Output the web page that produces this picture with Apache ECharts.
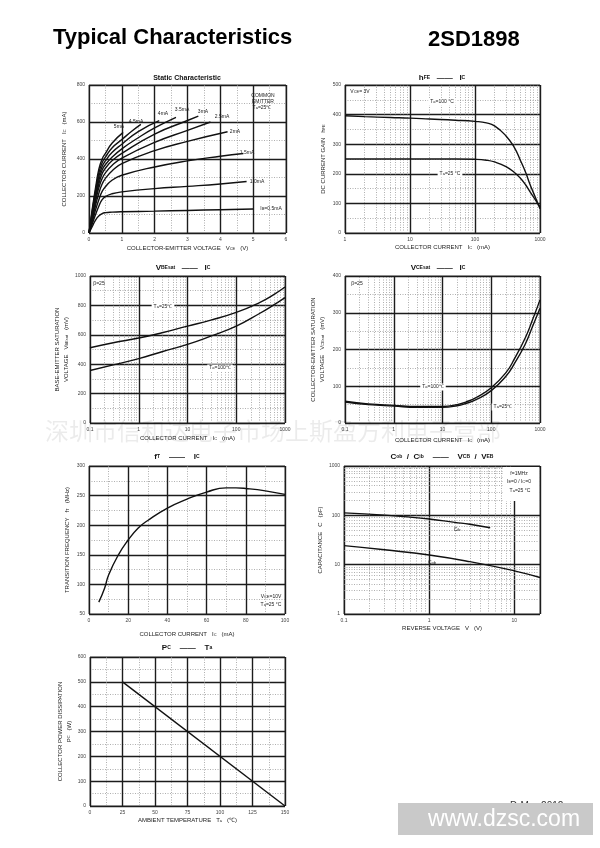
<!DOCTYPE html>
<html>
<head>
<meta charset="utf-8">
<script src="https://cdn.jsdelivr.net/npm/echarts/dist/echarts.min.js"></script>
<style>
  html, body { margin: 0; background: #fff; }
  #main { width: 600px; height: 848px; }
</style>
</head>
<body>
<div id="main"></div>
<script>
// static characteristic: [Vce (V), Ic (mA)] per base current
const ib05 = [[0,0],[0.1,35],[0.2,70],[0.3,92],[0.4,105],[0.5,110],[0.7,113],[1,115],[2,118],[3,122],[4,126],[5,130]];
const ib10 = [[0,0],[0.1,50],[0.2,100],[0.3,145],[0.4,180],[0.5,197],[0.7,212],[1,222],[2,240],[3,252],[4,265],[4.8,278]];
const ib15 = [[0,0],[0.1,60],[0.2,125],[0.3,180],[0.4,225],[0.5,250],[0.7,285],[1,312],[2,357],[3,390],[4,415],[4.7,430]];
const ib20 = [[0,0],[0.1,70],[0.2,150],[0.3,215],[0.4,265],[0.5,295],[0.7,335],[1,375],[2,445],[3,495],[4.22,547]];
const ib25 = [[0,0],[0.1,80],[0.2,170],[0.3,245],[0.4,295],[0.5,325],[0.7,365],[1,405],[2,490],[3,555],[3.7,600]];
const ib30 = [[0,0],[0.1,90],[0.2,185],[0.3,265],[0.4,320],[0.5,350],[0.7,390],[1,430],[2,535],[3,608],[3.33,632]];
const ib35 = [[0,0],[0.1,100],[0.2,200],[0.3,285],[0.4,340],[0.5,370],[0.7,410],[1,455],[1.5,515],[2,568],[2.65,625]];
const ib40 = [[0,0],[0.1,110],[0.2,215],[0.3,305],[0.4,360],[0.5,390],[0.7,435],[1,480],[1.5,548],[2.14,607]];
const ib45 = [[0,0],[0.1,120],[0.2,230],[0.3,325],[0.4,380],[0.5,410],[0.7,460],[1,505],[1.3,550],[1.58,587]];
const ib50 = [[0,0],[0.1,130],[0.2,245],[0.3,345],[0.4,400],[0.5,430],[0.7,485],[1.04,544]];

// hFE vs Ic (mA)
const hfe100 = [[1,396],[2,393],[5,390],[10,388],[20,385],[50,381],[100,377],[150,372],[200,362],[300,328],[400,290],[500,245],[600,205],[700,165],[850,120],[1000,82]];
const hfe25 = [[1,250],[10,250],[50,250],[100,249],[150,246],[200,240],[300,224],[400,205],[500,185],[600,163],[700,140],[850,112],[1000,88]];

// VBEsat (mV) vs Ic (mA)
const vbe25 = [[0.1,512],[0.3,546],[1,578],[3,614],[10,659],[30,700],[100,752],[300,819],[600,875],[1000,925]];
const vbe100 = [[0.1,357],[0.3,395],[1,438],[3,485],[10,535],[30,591],[100,659],[300,745],[600,805],[1000,853]];

// VCEsat (mV) vs Ic (mA)
const vce100 = [[0.1,59],[0.3,52],[1,48],[3,45],[10,45],[20,50],[30,57],[50,70],[100,96],[200,137],[300,175],[500,232],[700,280],[1000,335]];
const vce25 = [[0.1,57],[0.3,50],[1,46],[3,43],[10,43],[20,47],[30,53],[50,64],[100,88],[200,127],[300,162],[500,215],[700,262],[1000,312]];

// fT (MHz) vs Ic (mA)
const ft = [[5,70],[8,94],[10,116],[15,150],[20,175],[25,195],[30,208],[40,229],[50,244],[60,256],[70,263],[75,263],[80,262],[90,258],[100,252]];

// capacitance (pF) vs reverse voltage (V)
const cib = [[0.1,112],[0.3,101],[0.5,94],[1,84],[2,72],[3,66],[5.2,56]];
const cob = [[0.1,24.3],[0.3,20],[1,15.7],[3,11.5],[10,7.5],[20,5.5]];

// Pc vs Ta
const pc = [[25,500],[150,0]];

const F = '"Liberation Sans", Arial, sans-serif';
const RICH = { s: { fontSize: 4, fontFamily: F, color: '#222' } };
const RICH_T = { s: { fontSize: 5, fontFamily: F, fontWeight: 'bold', color: '#111' } };

const majorLine = { show: true, lineStyle: { color: '#1c1c1c', width: 1.4 } };
const minorLine = { show: true, lineStyle: { color: '#8c8c8c', width: 0.7, type: [1, 1.5] } };

function decadeLabel(v) {
  const e = Math.log10(v);
  if (Math.abs(e - Math.round(e)) > 1e-6) return '';
  const r = Math.round(e);
  return r < 0 ? v.toFixed(-r) : String(Math.round(v));
}

function axis(gridIndex, opts) {
  return Object.assign({
    gridIndex: gridIndex,
    nameLocation: 'middle',
    axisLine: { show: false },
    axisTick: { show: false },
    axisLabel: { fontSize: 5, color: '#444', fontFamily: F, margin: 4, formatter: v => String(v) },
    splitLine: majorLine,
    nameTextStyle: { fontSize: 6, color: '#222', fontFamily: F, rich: RICH, lineHeight: 9 }
  }, opts);
}
function lin(gridIndex, min, max, interval, opts) {
  return axis(gridIndex, Object.assign({
    type: 'value', min: min, max: max, interval: interval,
    minorTick: { show: false, splitNumber: 2 },
    minorSplitLine: minorLine
  }, opts));
}
function logAx(gridIndex, min, max, opts) {
  return axis(gridIndex, Object.assign({
    type: 'log', logBase: 10, min: min, max: max,
    axisLabel: { fontSize: 5, color: '#444', fontFamily: F, margin: 4, formatter: decadeLabel }
  }, opts));
}

// dotted minor grid lines inside each decade of a log axis
function logMinor(e0, e1, max) {
  const out = [];
  for (let e = e0; e < e1; e++) {
    for (let d = 2; d <= 9; d++) {
      const v = d * Math.pow(10, e);
      if (v < max) out.push(v);
    }
  }
  return out;
}
function minorMark(xs, ys) {
  const data = [];
  (xs || []).forEach(v => data.push({ xAxis: v }));
  (ys || []).forEach(v => data.push({ yAxis: v }));
  return { silent: true, symbol: 'none', label: { show: false }, animation: false,
    lineStyle: { color: '#8c8c8c', width: 0.7, type: [1, 1.5] }, data: data };
}

function curve(gi, data, extra) {
  return Object.assign({
    type: 'line', xAxisIndex: gi, yAxisIndex: gi, data: data,
    showSymbol: false, symbol: 'none', smooth: 0.5,
    lineStyle: { color: '#111', width: 1.4 }, z: 5
  }, extra);
}

function txt(x, y, text, size, opts) {
  return { type: 'text', x: x, y: y, z: 50, silent: true,
    style: Object.assign({ text: text, fontSize: size, fontFamily: F, fill: '#222',
      align: 'center', verticalAlign: 'middle', rich: RICH }, opts) };
}

const grids = [
  { left: 89, top: 85, width: 197, height: 148 },
  { left: 345, top: 85, width: 195, height: 148 },
  { left: 90, top: 276, width: 195, height: 147 },
  { left: 345, top: 276, width: 195, height: 147 },
  { left: 89, top: 466, width: 196, height: 148 },
  { left: 344, top: 466, width: 196, height: 148 },
  { left: 90, top: 657, width: 195, height: 149 }
].map(g => Object.assign({ show: true, borderColor: '#666', borderWidth: 1, backgroundColor: '#fff' }, g));

const xAxes = [
  lin(0, 0, 6, 1, { name: 'COLLECTOR-EMITTER VOLTAGE   V{s|CE}   (V)', nameGap: 11 }),
  logAx(1, 1, 1000, { name: 'COLLECTOR CURRENT   I{s|C}   (mA)', nameGap: 9 }),
  logAx(2, 0.1, 1000, { name: 'COLLECTOR CURRENT   I{s|C}   (mA)', nameGap: 11 }),
  logAx(3, 0.1, 1000, { name: 'COLLECTOR CURRENT   I{s|C}   (mA)', nameGap: 13 }),
  lin(4, 0, 100, 20, { name: 'COLLECTOR CURRENT   I{s|C}   (mA)', nameGap: 16 }),
  logAx(5, 0.1, 20, { name: 'REVERSE VOLTAGE   V   (V)', nameGap: 9 }),
  lin(6, 0, 150, 25, { name: 'AMBIENT TEMPERATURE   T{s|a}   (\u2103)', nameGap: 8 })
];
const yAxes = [
  lin(0, 0, 800, 200, { name: 'COLLECTOR CURRENT   I{s|C}   (mA)', nameGap: 20 }),
  lin(1, 0, 500, 100, { name: 'DC CURRENT GAIN   h{s|FE}', nameGap: 17 }),
  lin(2, 0, 1000, 200, { name: 'BASE-EMITTER SATURATION\nVOLTAGE   V{s|BEsat}   (mV)', nameGap: 13 }),
  lin(3, 0, 400, 100, { name: 'COLLECTOR-EMITTER SATURATION\nVOLTAGE   V{s|CEsat}   (mV)', nameGap: 18 }),
  lin(4, 50, 300, 50, { name: 'TRANSITION FREQUENCY   f{s|T}   (MHz)', nameGap: 17 }),
  logAx(5, 1, 1000, { name: 'CAPACITANCE   C   (pF)', nameGap: 14 }),
  lin(6, 0, 600, 100, { name: 'COLLECTOR POWER DISSIPATION\nP{s|C}   (W)', nameGap: 14 })
];

const series = [
  curve(0, ib05), curve(0, ib10), curve(0, ib15), curve(0, ib20), curve(0, ib25),
  curve(0, ib30), curve(0, ib35), curve(0, ib40), curve(0, ib45), curve(0, ib50),
  curve(1, hfe100, { markLine: minorMark(logMinor(0, 3, 1000)) }), curve(1, hfe25),
  curve(2, vbe25, { markLine: minorMark(logMinor(-1, 3, 1000)) }), curve(2, vbe100),
  curve(3, vce100, { markLine: minorMark(logMinor(-1, 3, 1000)) }), curve(3, vce25),
  curve(4, ft),
  curve(5, cib, { markLine: minorMark(logMinor(-1, 2, 20), logMinor(0, 3, 1000)) }), curve(5, cob),
  curve(6, pc, { smooth: false })
];

const graphics = [
  // page header
  txt(53, 38, 'Typical Characteristics', 22, { align: 'left', fontWeight: 'bold', fill: '#000' }),
  txt(428, 40, '2SD1898', 22, { align: 'left', fontWeight: 'bold', fill: '#000' }),
  // chart titles
  txt(187, 78, 'Static Characteristic', 7, { fontWeight: 'bold', fill: '#111' }),
  txt(442, 78, 'h{s|FE}   \u2014\u2014   I{s|C}', 8, { fontWeight: 'bold', fill: '#111', rich: RICH_T }),
  txt(183, 268, 'V{s|BEsat}   \u2014\u2014   I{s|C}', 8, { fontWeight: 'bold', fill: '#111', rich: RICH_T }),
  txt(438, 268, 'V{s|CEsat}   \u2014\u2014   I{s|C}', 8, { fontWeight: 'bold', fill: '#111', rich: RICH_T }),
  txt(177, 457, 'f{s|T}    \u2014\u2014    I{s|C}', 8, { fontWeight: 'bold', fill: '#111', rich: RICH_T }),
  txt(442, 457, 'C{s|ob}  /  C{s|ib}    \u2014\u2014    V{s|CB}  /  V{s|EB}', 8, { fontWeight: 'bold', fill: '#111', rich: RICH_T }),
  txt(187, 648, 'P{s|C}    \u2014\u2014    T{s|a}', 8, { fontWeight: 'bold', fill: '#111', rich: RICH_T }),
  // static characteristic labels
  txt(119, 127, '5mA', 5), txt(136, 122, '4.5mA', 5), txt(163, 114, '4mA', 5),
  txt(182, 110, '3.5mA', 5), txt(203, 112, '3mA', 5), txt(222, 117, '2.5mA', 5),
  txt(235, 132, '2mA', 5), txt(247, 153, '1.5mA', 5), txt(257, 182, '1.0mA', 5),
  txt(271, 209, 'I{s|B}=0.5mA', 5),
  txt(263, 96, 'COMMON', 5), txt(263, 102, 'EMITTER', 5), txt(262, 108, 'T{s|a}=25\u2103', 5),
  // hFE labels
  txt(360, 92, 'V{s|CE}= 3V', 5),
  txt(442, 102, 'T{s|a}=100 \u00b0C', 5, { backgroundColor: '#fff', padding: [1, 2] }),
  txt(450, 174, 'T{s|a}=25 \u00b0C', 5, { backgroundColor: '#fff', padding: [1, 2] }),
  // VBEsat labels
  txt(99, 284, '\u03b2=25', 5),
  txt(163, 307, 'T{s|a}=25\u2103', 5, { backgroundColor: '#fff', padding: [1, 2] }),
  txt(220, 368, 'T{s|a}=100\u2103', 5, { backgroundColor: '#fff', padding: [1, 2] }),
  // VCEsat labels
  txt(357, 284, '\u03b2=25', 5),
  txt(433, 387, 'T{s|a}=100\u2103', 5, { backgroundColor: '#fff', padding: [1, 2] }),
  txt(503, 407, 'T{s|a}=25\u2103', 5, { backgroundColor: '#fff', padding: [1, 2] }),
  // fT labels
  txt(271, 597, 'V{s|CE}=10V', 5), txt(271, 605, 'T{s|a}=25 \u00b0C', 5),
  // capacitance labels
  { type: 'rect', z: 40, silent: true, shape: { x: 503, y: 467, width: 36, height: 34 }, style: { fill: '#fff' } },
  txt(519, 474, 'f=1MHz', 5), txt(519, 482, 'I{s|E}=0 / I{s|C}=0', 5), txt(520, 491, 'T{s|a}=25 \u00b0C', 5),
  txt(457, 530, 'C{s|ib}', 5), txt(432, 563, 'C{s|ob}', 5),
  // watermark across the middle row
  { type: 'text', x: 45, y: 431, z: 60, silent: true,
    style: { text: '深圳市信和达电子市场上斯盈方利电子营部', fontSize: 24, fontFamily: '"Noto Sans CJK SC", sans-serif',
      fill: 'rgba(0,0,0,0.08)', align: 'left', verticalAlign: 'middle' } },
  // footer
  txt(510, 806, 'D-Mar-2012', 10, { align: 'left', fill: '#333' }),
  { type: 'rect', z: 70, silent: true, shape: { x: 398, y: 803, width: 195, height: 32 }, style: { fill: '#c9c9c9' } },
  { type: 'text', x: 504, y: 820, z: 71, silent: true,
    style: { text: 'www.dzsc.com', fontSize: 23, fontFamily: F, fill: '#fff', align: 'center', verticalAlign: 'middle' } }
];

const chart = echarts.init(document.getElementById('main'), null, { renderer: 'canvas' });
chart.setOption({
  animation: false,
  backgroundColor: '#fff',
  grid: grids,
  xAxis: xAxes,
  yAxis: yAxes,
  series: series,
  graphic: graphics
});
</script>
</body>
</html>
